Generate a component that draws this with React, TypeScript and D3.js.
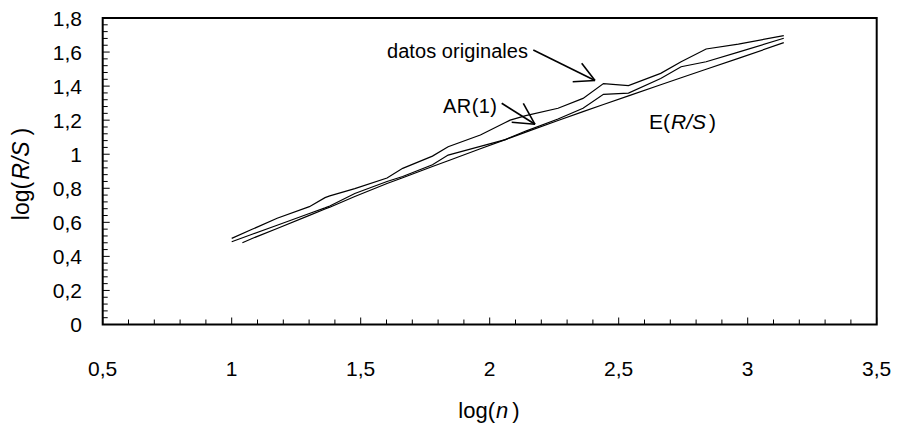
import React from "react";
import * as d3 from "d3";

const nValues = [10, 12, 15, 20, 23, 24, 30, 40, 46, 60, 69, 92, 115, 120, 138, 184, 230, 276, 345, 460, 552, 690, 920, 1380];
const datosOriginales = [0.506, 0.559, 0.624, 0.692, 0.745, 0.755, 0.798, 0.86, 0.917, 0.989, 1.044, 1.113, 1.186, 1.2, 1.227, 1.27, 1.328, 1.415, 1.403, 1.475, 1.543, 1.618, 1.647, 1.696];
const ar1 = [0.486, 0.53, 0.583, 0.652, 0.685, 0.696, 0.769, 0.84, 0.869, 0.938, 0.995, 1.046, 1.086, 1.098, 1.136, 1.207, 1.27, 1.352, 1.359, 1.445, 1.514, 1.543, 1.6, 1.681];
const eNValues = [11, 12, 15, 20, 23, 24, 30, 40, 46, 60, 69, 92, 115, 120, 138, 184, 230, 276, 345, 460, 552, 690, 920, 1380];
const eRS = [0.48, 0.505, 0.564, 0.641, 0.678, 0.689, 0.752, 0.828, 0.862, 0.928, 0.962, 1.032, 1.086, 1.096, 1.13, 1.198, 1.25, 1.292, 1.343, 1.408, 1.449, 1.499, 1.563, 1.655];

const xTickValues = [0.5, 1, 1.5, 2, 2.5, 3, 3.5];
const yTickValues = [0, 0.2, 0.4, 0.6, 0.8, 1, 1.2, 1.4, 1.6, 1.8];

const W = 898;
const H = 425;
const L = 102.7, R = 876.7, T = 18, B = 324.5;
const FONT = "'Liberation Sans', Arial, Helvetica, sans-serif";

const fmt = (v: number) => String(+v.toFixed(1)).replace(".", ",");

export default function App() {
  const x = d3.scaleLinear().domain([0.5, 3.5]).range([L, R]);
  const y = d3.scaleLinear().domain([0, 1.8]).range([B, T]);
  const line = d3
    .line<[number, number]>()
    .x((d) => x(d[0]))
    .y((d) => y(d[1]));

  const series = [
    { n: nValues, v: datosOriginales },
    { n: nValues, v: ar1 },
    { n: eNValues, v: eRS },
  ];

  const xMinor = d3.range(5, 36).map((i) => i / 10);
  const yMinor = d3.range(0, 46).map((i) => i * 0.04);

  const arrow = (x1: number, y1: number, x2: number, y2: number, b1: [number, number], b2: [number, number]) => (
    <g stroke="#000" strokeWidth={1.6} fill="none">
      <line x1={x1} y1={y1} x2={x2} y2={y2} />
      <line x1={x2} y1={y2} x2={b1[0]} y2={b1[1]} />
      <line x1={x2} y1={y2} x2={b2[0]} y2={b2[1]} />
    </g>
  );

  return (
    <svg width={W} height={H} style={{ position: "absolute", left: 0, top: 0, background: "#fff" }} fontFamily={FONT}>
      <rect x={0} y={0} width={W} height={H} fill="#fff" />
      <g stroke="#000" strokeWidth={1}>
        {xMinor.map((t, i) => {
          const major = Math.abs(t * 2 - Math.round(t * 2)) < 1e-6;
          return <line key={"xm" + i} x1={x(t)} x2={x(t)} y1={B} y2={B - (major ? 7 : 5)} />;
        })}
        {yMinor.map((t, i) => {
          const major = Math.abs(t * 5 - Math.round(t * 5)) < 1e-6;
          return <line key={"ym" + i} x1={L} x2={L + (major ? 7 : 5)} y1={y(t)} y2={y(t)} />;
        })}
      </g>
      <rect x={L} y={T} width={R - L} height={B - T} fill="none" stroke="#000" strokeWidth={2} />
      {series.map((s, i) => (
        <path
          key={i}
          d={line(s.n.map((n, j) => [Math.log10(n), s.v[j]] as [number, number])) || ""}
          fill="none"
          stroke="#000"
          strokeWidth={1.2}
        />
      ))}
      <g fontSize={21} fill="#000">
        {xTickValues.map((t) => (
          <text key={"xt" + t} x={x(t)} y={376} textAnchor="middle">
            {fmt(t)}
          </text>
        ))}
        {yTickValues.map((t) => (
          <text key={"yt" + t} x={82} y={y(t) + 7.5} textAnchor="end">
            {fmt(t)}
          </text>
        ))}
      </g>
      <text x={489} y={418} textAnchor="middle" fontSize={22}>
        log(<tspan fontStyle="italic" dx={1}>n</tspan><tspan dx={4}>)</tspan>
      </text>
      <text transform="translate(29,174) rotate(-90)" textAnchor="middle" fontSize={23}>
        log(<tspan fontStyle="italic" dx={2}>R/S</tspan><tspan dx={6}>)</tspan>
      </text>
      <g fontSize={20}>
        <text x={387} y={58} textLength={141} lengthAdjust="spacing">datos originales</text>
        <text x={443} y={113} textLength={54} lengthAdjust="spacing">AR(1)</text>
        <text x={649} y={129} fontSize={21}>
          E(<tspan fontStyle="italic" dx={1}>R/S</tspan><tspan dx={3}>)</tspan>
        </text>
      </g>
      {arrow(533.3, 50, 595, 80.5, [572.7, 81.7], [581.7, 63.3])}
      {arrow(501.7, 103.3, 535, 124.3, [511.7, 122.3], [523.3, 103.3])}
    </svg>
  );
}
